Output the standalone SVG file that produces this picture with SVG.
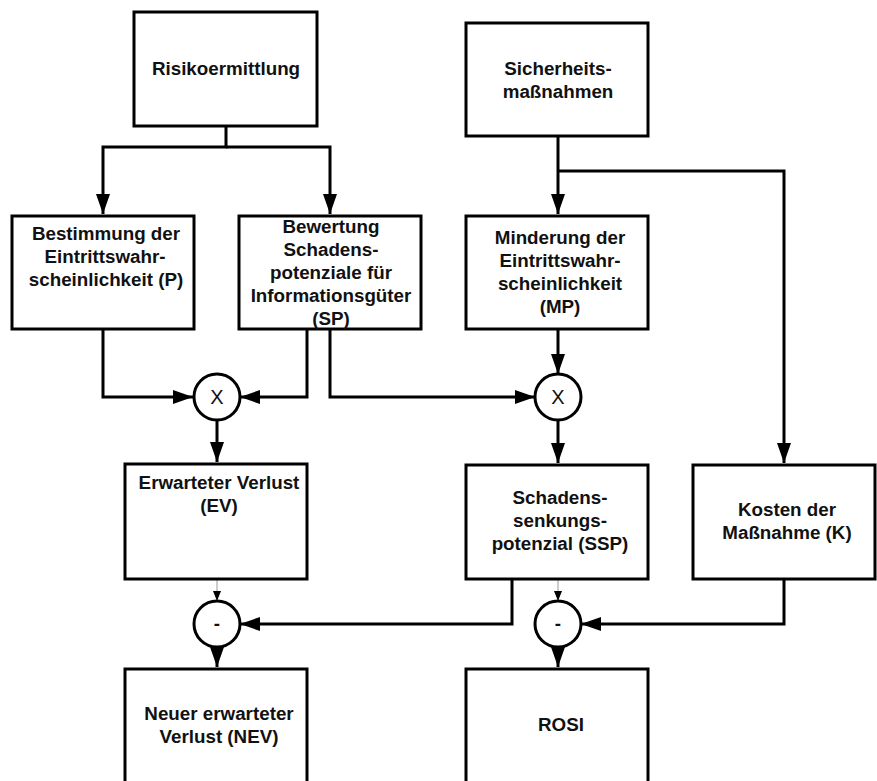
<svg xmlns="http://www.w3.org/2000/svg" width="877" height="781" viewBox="0 0 877 781">
  <style>
    .box { fill: #fff; stroke: #000; stroke-width: 3; }
    .op { fill: #fff; stroke: #000; stroke-width: 3; }
    .lbl { font-family: "Liberation Sans", Arial, sans-serif; font-size: 18.8px; font-weight: bold; fill: #111; text-anchor: middle; }
    .sym { font-family: "Liberation Sans", Arial, sans-serif; font-size: 20px; fill: #111; text-anchor: middle; }
    .wire { fill: none; stroke: #000; stroke-width: 3; }
    .thin { fill: none; stroke: #999; stroke-width: 1; }
  </style>
  <defs>
    <marker id="arrow" markerUnits="userSpaceOnUse" markerWidth="22" markerHeight="16" refX="20" refY="7" orient="auto">
      <path d="M0,0 L20,7 L0,14 z" fill="#000"/>
    </marker>
    <marker id="arrowSmall" markerUnits="userSpaceOnUse" markerWidth="12" markerHeight="10" refX="10" refY="4" orient="auto">
      <path d="M0,0 L10,4 L0,8 z" fill="#000"/>
    </marker>
  </defs>

  <rect width="877" height="781" fill="#fff"/>

  <!-- connectors -->
  <g id="connectors">
    <path class="wire" d="M226,126 V147 H103 V214" marker-end="url(#arrow)"/>
    <path class="wire" d="M226,147 H330 V214" marker-end="url(#arrow)"/>
    <path class="wire" d="M103,329 V397 H193" marker-end="url(#arrow)"/>
    <path class="wire" d="M307,329 V397 H240" marker-end="url(#arrow)"/>
    <path class="wire" d="M330,329 V397 H535" marker-end="url(#arrow)"/>
    <path class="wire" d="M558,136 V214" marker-end="url(#arrow)"/>
    <path class="wire" d="M558,171 H784 V463" marker-end="url(#arrow)"/>
    <path class="wire" d="M558,329 V374" marker-end="url(#arrow)"/>
    <path class="wire" d="M217,420 V462" marker-end="url(#arrow)"/>
    <path class="wire" d="M558,420 V463" marker-end="url(#arrow)"/>
    <path class="thin" d="M217,580 V601" marker-end="url(#arrowSmall)"/>
    <path class="thin" d="M558,580 V601" marker-end="url(#arrowSmall)"/>
    <path class="wire" d="M512,579 V624 H240" marker-end="url(#arrow)"/>
    <path class="wire" d="M784,579 V624 H581" marker-end="url(#arrow)"/>
    <path class="wire" d="M217,646 V667" marker-end="url(#arrow)"/>
    <path class="wire" d="M558,646 V667" marker-end="url(#arrow)"/>
  </g>

  <g id="risikoermittlung">
    <rect class="box" x="134" y="12" width="183" height="114"/>
    <text class="lbl" x="226" y="75">Risikoermittlung</text>
  </g>

  <g id="sicherheitsmassnahmen">
    <rect class="box" x="466" y="23" width="182" height="113"/>
    <text class="lbl" x="558" y="75">Sicherheits-</text>
    <text class="lbl" x="558" y="98">maßnahmen</text>
  </g>

  <g id="bestimmung">
    <rect class="box" x="12" y="216" width="182" height="113"/>
    <text class="lbl" x="106" y="240">Bestimmung der</text>
    <text class="lbl" x="105" y="263">Eintrittswahr-</text>
    <text class="lbl" x="106" y="286">scheinlichkeit (P)</text>
  </g>

  <g id="bewertung">
    <rect class="box" x="239" y="216" width="182" height="113"/>
    <text class="lbl" x="331" y="233">Bewertung</text>
    <text class="lbl" x="331" y="256">Schadens-</text>
    <text class="lbl" x="331" y="279">potenziale für</text>
    <text class="lbl" x="331" y="302">Informationsgüter</text>
    <text class="lbl" x="331" y="325">(SP)</text>
  </g>

  <g id="minderung">
    <rect class="box" x="466" y="216" width="182" height="113"/>
    <text class="lbl" x="560" y="244">Minderung der</text>
    <text class="lbl" x="560" y="267">Eintrittswahr-</text>
    <text class="lbl" x="560" y="290">scheinlichkeit</text>
    <text class="lbl" x="560" y="313">(MP)</text>
  </g>

  <g id="mult-ev">
    <circle class="op" cx="217" cy="397" r="23"/>
    <text class="sym" x="217" y="404">X</text>
  </g>

  <g id="mult-ssp">
    <circle class="op" cx="558" cy="397" r="23"/>
    <text class="sym" x="558" y="404">X</text>
  </g>

  <g id="erwarteter-verlust">
    <rect class="box" x="125" y="464" width="182" height="115"/>
    <text class="lbl" x="219" y="489">Erwarteter Verlust</text>
    <text class="lbl" x="219" y="512">(EV)</text>
  </g>

  <g id="schadenssenkungspotenzial">
    <rect class="box" x="466" y="465" width="182" height="114"/>
    <text class="lbl" x="560" y="504">Schadens-</text>
    <text class="lbl" x="560" y="527">senkungs-</text>
    <text class="lbl" x="560" y="550">potenzial (SSP)</text>
  </g>

  <g id="kosten">
    <rect class="box" x="693" y="465" width="182" height="114"/>
    <text class="lbl" x="787" y="516">Kosten der</text>
    <text class="lbl" x="787" y="539">Maßnahme (K)</text>
  </g>

  <g id="minus-nev">
    <circle class="op" cx="217" cy="624" r="23"/>
    <text class="lbl" x="217" y="630">-</text>
  </g>

  <g id="minus-rosi">
    <circle class="op" cx="558" cy="624" r="23"/>
    <text class="lbl" x="558" y="630">-</text>
  </g>

  <g id="neuer-erwarteter-verlust">
    <rect class="box" x="125" y="669" width="182" height="130"/>
    <text class="lbl" x="219" y="720">Neuer erwarteter</text>
    <text class="lbl" x="219" y="743">Verlust (NEV)</text>
  </g>

  <g id="rosi">
    <rect class="box" x="466" y="669" width="182" height="130"/>
    <text class="lbl" x="561" y="731">ROSI</text>
  </g>
</svg>
